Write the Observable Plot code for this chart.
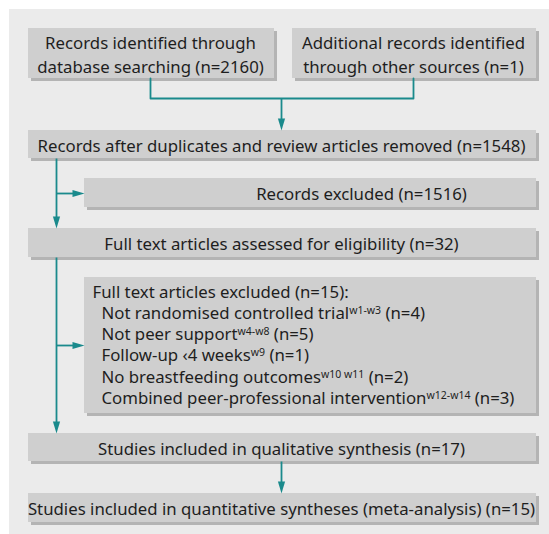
<!DOCTYPE html>
<html>
<head>
<meta charset="utf-8">
<script src="https://cdn.jsdelivr.net/npm/d3@7"></script>
<script src="https://cdn.jsdelivr.net/npm/@observablehq/plot@0.6"></script>
<style>
  html, body { margin: 0; padding: 0; background: #ffffff; }
  #chart svg { display: block; }
</style>
</head>
<body>
<div id="chart"></div>
<script>
// ---------- content ----------
const sourceLabels = ["Records identified through", "database searching", "Additional records identified", "through other sources"];
const sourceCounts = [2160, 1];
const stageLabels = [
  "Records after duplicates and review articles removed",
  "Records excluded",
  "Full text articles assessed for eligibility",
  "Full text articles excluded",
  "Studies included in qualitative synthesis",
  "Studies included in quantitative syntheses (meta-analysis)"
];
const stageCounts = [1548, 1516, 32, 15, 17, 15];
const exclusionReasons = [
  "Not randomised controlled trial",
  "Not peer support",
  "Follow-up \u20394 weeks",
  "No breastfeeding outcomes",
  "Combined peer-professional intervention"
];
const exclusionRefs = ["w1-w3", "w4-w8", "w9", "w10 w11", "w12-w14"];
const exclusionCounts = [4, 5, 1, 2, 3];

// ---------- layout (pixel space of the 549 x 534 frame) ----------
const W = 549, H = 534;
const SEP = "\u2063"; // invisible separator used to mark superscripts
const layout = {
  panel: {x1: 9, x2: 549, y1: 9, y2: 534},
  boxes: [
    {x1: 28, x2: 274, y1: 28, y2: 78},   // source 1
    {x1: 292, x2: 536, y1: 28, y2: 78},  // source 2
    {x1: 28, x2: 536, y1: 130, y2: 158}, // after duplicates
    {x1: 84, x2: 536, y1: 178, y2: 207}, // records excluded
    {x1: 28, x2: 536, y1: 228, y2: 257}, // full text assessed
    {x1: 84, x2: 536, y1: 277, y2: 413}, // full text excluded
    {x1: 28, x2: 536, y1: 433, y2: 461}, // qualitative
    {x1: 28, x2: 536, y1: 493, y2: 522}  // quantitative
  ],
  shadow: 3,
  mainX: 56, centerX: 281
};

const boxes = layout.boxes;
const teal = "#1a8a8c";
const font = "'Noto Sans', sans-serif";
const fs = 16.8;

// connectors (polylines)
const merge = [
  {x: 150, y: boxes[0].y2}, {x: 150, y: 98}, {x: 413, y: 98}, {x: 413, y: boxes[1].y2}
];
const stems = [
  {x1: layout.centerX, y1: 98, x2: layout.centerX, y2: boxes[2].y1 - 10},
  {x1: layout.mainX, y1: boxes[2].y2, x2: layout.mainX, y2: boxes[4].y1 - 10},
  {x1: layout.mainX, y1: 193, x2: boxes[3].x1 - 10, y2: 193},
  {x1: layout.mainX, y1: boxes[4].y2, x2: layout.mainX, y2: boxes[6].y1 - 10},
  {x1: layout.mainX, y1: 345, x2: boxes[5].x1 - 10, y2: 345},
  {x1: layout.centerX, y1: boxes[6].y2, x2: layout.centerX, y2: boxes[7].y1 - 10}
];
// arrowheads: base point + direction
const heads = [
  {x: layout.centerX, y: boxes[2].y1 - 12, r: 180},
  {x: layout.mainX, y: boxes[4].y1 - 12, r: 180},
  {x: boxes[3].x1 - 12, y: 193, r: 90},
  {x: layout.mainX, y: boxes[6].y1 - 12, r: 180},
  {x: boxes[5].x1 - 12, y: 345, r: 90},
  {x: layout.centerX, y: boxes[7].y1 - 12, r: 180}
];
const headSymbol = {
  draw(ctx) { ctx.moveTo(0, -12); ctx.lineTo(3.6, 0); ctx.lineTo(-3.6, 0); ctx.closePath(); }
};

// text items
const centeredTexts = [
  {x: 150, y: 53, t: `${sourceLabels[0]}\n${sourceLabels[1]} (n=${sourceCounts[0]})`},
  {x: 413, y: 53, t: `${sourceLabels[2]}\n${sourceLabels[3]} (n=${sourceCounts[1]})`},
  {x: layout.centerX, y: 144, t: `${stageLabels[0]} (n=${stageCounts[0]})`},
  {x: 361, y: 192, t: `${stageLabels[1]} (n=${stageCounts[1]})`},
  {x: layout.centerX, y: 242, t: `${stageLabels[2]} (n=${stageCounts[2]})`},
  {x: layout.centerX, y: 447, t: `${stageLabels[4]} (n=${stageCounts[4]})`},
  {x: layout.centerX, y: 507, t: `${stageLabels[5]} (n=${stageCounts[5]})`}
];
const listTop = 292, listStep = 21.2;
const listTexts = [
  {x: 92, y: listTop, t: `${stageLabels[3]} (n=${stageCounts[3]}):`},
  ...exclusionReasons.map((r, i) => ({
    x: 101, y: listTop + listStep * (i + 1),
    t: `${r}${SEP}${exclusionRefs[i]}${SEP} (n=${exclusionCounts[i]})`
  }))
];

const chart = Plot.plot({
  width: W, height: H, margin: 0,
  x: {domain: [0, W], range: [0, W], axis: null},
  y: {domain: [0, H], range: [0, H], axis: null},
  style: {fontFamily: font, background: "#ffffff"},
  marks: [
    Plot.rect([layout.panel], {x1: "x1", x2: "x2", y1: "y1", y2: "y2", fill: "#ebebeb"}),
    Plot.rect(boxes, {x1: d => d.x1 + layout.shadow, x2: d => d.x2 + layout.shadow, y1: d => d.y1 + layout.shadow, y2: d => d.y2 + layout.shadow, fill: "#b4b4b4"}),
    Plot.rect(boxes, {x1: "x1", x2: "x2", y1: "y1", y2: "y2", fill: "#cfcfcf"}),
    Plot.line(merge, {x: "x", y: "y", stroke: teal, strokeWidth: 1.8, curve: "linear"}),
    Plot.link(stems, {x1: "x1", y1: "y1", x2: "x2", y2: "y2", stroke: teal, strokeWidth: 1.8}),
    Plot.dot(heads, {x: "x", y: "y", rotate: "r", symbol: headSymbol, fill: teal, stroke: "none", r: 4}),
    Plot.text(centeredTexts, {x: "x", y: "y", text: "t", textAnchor: "middle", lineAnchor: "middle", lineHeight: 1.42, fontSize: fs, fill: "#1e1e1e"}),
    Plot.text(listTexts, {x: "x", y: "y", text: "t", textAnchor: "start", lineAnchor: "middle", fontSize: fs, fill: "#1e1e1e"})
  ]
});

// render superscripts
d3.select(chart).selectAll("text").each(function() {
  const el = this;
  const s = el.textContent;
  if (!s.includes(SEP)) return;
  const [pre, sup, post] = s.split(SEP);
  el.textContent = "";
  const ns = "http://www.w3.org/2000/svg";
  const a = document.createElementNS(ns, "tspan"); a.textContent = pre; el.appendChild(a);
  const b = document.createElementNS(ns, "tspan"); b.textContent = sup;
  b.setAttribute("dy", "-5"); b.setAttribute("font-size", "10.5"); el.appendChild(b);
  const c = document.createElementNS(ns, "tspan"); c.textContent = post;
  c.setAttribute("dy", "5"); el.appendChild(c);
});

document.getElementById("chart").appendChild(chart);
</script>
</body>
</html>
